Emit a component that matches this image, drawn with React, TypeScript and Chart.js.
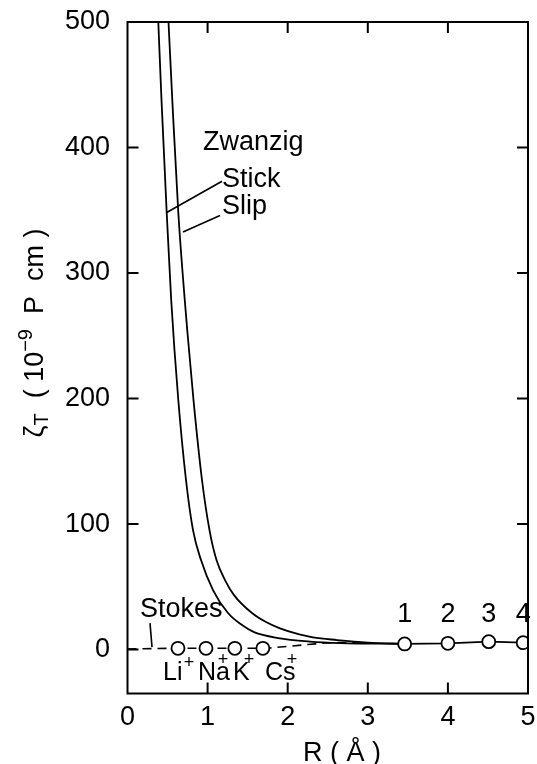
import React, { useEffect, useRef } from "react";
import { Chart, registerables } from "chart.js";

Chart.register(...registerables);

const FONT = '"Liberation Sans", Arial, sans-serif';

// axis ticks
const xTicks = [0, 1, 2, 3, 4, 5];
const yTicks = [0, 100, 200, 300, 400, 500];
const innerXTicks = [1, 2, 3, 4];
const innerYTicksLeft = [0, 100, 200, 300, 400];
const innerYTicksRight = [100, 200, 300, 400];

// Zwanzig stick curve
const stickR = [0.3845, 0.4245, 0.4894, 0.5456, 0.6342, 0.7303, 0.8177, 0.9176, 1.0674, 1.2547, 1.4295, 1.5793, 1.8789, 2.2784, 2.6529, 3.46];
const stickZeta = [500, 437.8, 348.2, 278.5, 198.8, 135.1, 95.2, 71.3, 47.4, 29.1, 19.5, 13.9, 9.2, 6.4, 5.2, 4.5];

// Zwanzig slip curve
const slipR = [0.5119, 0.5593, 0.6342, 0.7491, 0.824, 0.9301, 1.0237, 1.1111, 1.2172, 1.3296, 1.5543, 1.7291, 1.9039, 2.0911, 2.3159, 2.6155, 3.0, 3.46];
const slipZeta = [500, 437.8, 348.2, 252.2, 198.8, 135.1, 95.2, 71.3, 55.4, 43.4, 29.1, 21.9, 16.9, 13.1, 9.7, 7.6, 5.6, 4.5];

// Stokes (dashed)
const stokesR = [0, 0.63, 0.98, 1.34, 1.69, 1.87, 2.25, 2.62, 2.9];
const stokesZeta = [0.4, 1.0, 1.0, 1.0, 1.0, 1.8, 4.0, 5.6, 5.2];

// alkali ions
const ionNames = ["Li", "Na", "K", "Cs"];
const ionR = [0.63, 0.98, 1.34, 1.69];
const ionZeta = [1.0, 1.0, 1.0, 1.0];

// numbered points 1-4
const numLabels = ["1", "2", "3", "4"];
const numR = [3.46, 4.0, 4.51, 4.94];
const numZeta = [4.5, 5.0, 6.3, 5.5];

// text annotations (data coordinates: left x, baseline y)
const textLabels = [
  { text: "Zwanzig", x: 0.943, y: 398, size: 27 },
  { text: "Stick", x: 1.18, y: 368.5, size: 27 },
  { text: "Slip", x: 1.18, y: 347, size: 27 },
  { text: "Stokes", x: 0.156, y: 25.9, size: 27 },
];
const ionLabelX = [0.443, 0.88, 1.317, 1.717];
const ionLabelY = -24.3;
const plusX = [0.768, 1.192, 1.517, 2.054];
const plusY = [-10.8, -8.4, -8.4, -8.4];
const numLabelY = 21.9;
// leader lines [x1, y1, x2, y2]
const leaders = [
  [1.18, 373.1, 0.4894, 348.2],
  [1.155, 345.8, 0.693, 332.7],
  [0.281, 21.1, 0.306, 2.0],
];

const pts = (xs: number[], ys: number[]) => xs.map((x, i) => ({ x, y: ys[i] }));

const annotPlugin = {
  id: "annot",
  afterDraw(chart: any) {
    const { ctx, chartArea: a, scales } = chart;
    const xs = scales.x, ys = scales.y;
    const px = (v: number) => xs.getPixelForValue(v);
    const py = (v: number) => ys.getPixelForValue(v);
    ctx.save();
    ctx.strokeStyle = "#000";
    ctx.fillStyle = "#000";
    // frame
    ctx.lineWidth = 2;
    ctx.strokeRect(a.left, a.top, a.right - a.left, a.bottom - a.top);
    // inward ticks
    const TL = 11;
    ctx.lineWidth = 2;
    ctx.beginPath();
    innerXTicks.forEach((v) => {
      const x = px(v);
      ctx.moveTo(x, a.bottom); ctx.lineTo(x, a.bottom - TL);
      ctx.moveTo(x, a.top); ctx.lineTo(x, a.top + TL);
    });
    innerYTicksLeft.forEach((v) => {
      const y = py(v);
      ctx.moveTo(a.left, y); ctx.lineTo(a.left + TL, y);
    });
    innerYTicksRight.forEach((v) => {
      const y = py(v);
      ctx.moveTo(a.right, y); ctx.lineTo(a.right - TL, y);
    });
    ctx.stroke();
    // leaders
    ctx.lineWidth = 1.6;
    ctx.beginPath();
    leaders.forEach(([x1, y1, x2, y2]) => {
      ctx.moveTo(px(x1), py(y1));
      ctx.lineTo(px(x2), py(y2));
    });
    ctx.stroke();
    // texts
    ctx.textBaseline = "alphabetic";
    ctx.textAlign = "left";
    textLabels.forEach((t) => {
      ctx.font = `${t.size}px ${FONT}`;
      ctx.fillText(t.text, px(t.x), py(t.y));
    });
    ctx.font = `25px ${FONT}`;
    ionNames.forEach((n, i) => ctx.fillText(n, px(ionLabelX[i]), py(ionLabelY)));
    ctx.textAlign = "center";
    ctx.font = `18px ${FONT}`;
    ctx.textBaseline = "middle";
    plusX.forEach((x, i) => ctx.fillText("+", px(x), py(plusY[i])));
    ctx.textBaseline = "alphabetic";
    ctx.font = `27px ${FONT}`;
    numLabels.forEach((n, i) => ctx.fillText(n, px(numR[i]), py(numLabelY)));
    // x axis title
    ctx.textAlign = "center";
    ctx.font = `27px ${FONT}`;
    ctx.fillText("R ( Å )", 342, 761);
    // y axis title
    const big = `27px ${FONT}`, small = `20px ${FONT}`;
    const pieces = [
      { t: "ζ", f: big, dy: 0 },
      { t: "T", f: small, dy: 5 },
      { t: "  ( 10", f: big, dy: 0 },
      { t: "−9", f: small, dy: -11 },
      { t: "  P  cm )", f: big, dy: 0 },
    ];
    ctx.textAlign = "left";
    let total = 0;
    const widths = pieces.map((p) => { ctx.font = p.f; const w = ctx.measureText(p.t).width; total += w; return w; });
    ctx.translate(43, 333);
    ctx.rotate(-Math.PI / 2);
    let cx = -total / 2;
    pieces.forEach((p, i) => {
      ctx.font = p.f;
      ctx.fillText(p.t, cx, p.dy);
      cx += widths[i];
    });
    ctx.restore();
  },
};

export default function App() {
  const ref = useRef<HTMLCanvasElement>(null);
  useEffect(() => {
    const lineBase = { showLine: true, pointRadius: 0, borderColor: "#000", borderWidth: 1.8, cubicInterpolationMode: "monotone" as const, fill: false };
    const pointBase = { pointRadius: 6.5, pointBackgroundColor: "#fff", pointBorderColor: "#000", pointBorderWidth: 1.8, pointHoverRadius: 6.5 };
    const chart = new Chart(ref.current!, {
      type: "scatter",
      data: {
        datasets: [
          { label: "numbered", data: pts(numR, numZeta), showLine: true, borderColor: "#000", borderWidth: 1.8, order: 0, ...pointBase },
          { label: "ions", data: pts(ionR, ionZeta), showLine: false, order: 0, ...pointBase },
          { label: "Stick", data: pts(stickR, stickZeta), order: 2, ...lineBase },
          { label: "Slip", data: pts(slipR, slipZeta), order: 2, ...lineBase },
          { label: "Stokes", data: pts(stokesR, stokesZeta), order: 3, ...lineBase, borderWidth: 1.6, borderDash: [9, 6] },
        ],
      },
      options: {
        animation: false,
        responsive: false,
        devicePixelRatio: 1,
        layout: { padding: { top: 22, right: 9, left: 0, bottom: 0 } },
        plugins: { legend: { display: false }, tooltip: { enabled: false } },
        scales: {
          x: {
            type: "linear",
            min: 0,
            max: 5,
            afterBuildTicks: (s: any) => { s.ticks = xTicks.map((v) => ({ value: v })); },
            afterFit: (s: any) => { s.height = 70.5; s.paddingLeft = 0; s.paddingRight = 0; },
            ticks: { font: { family: FONT, size: 27 }, color: "#000", padding: 8, maxRotation: 0, autoSkip: false },
            grid: { display: false, drawTicks: false },
            border: { display: false },
          },
          y: {
            type: "linear",
            min: -35,
            max: 500,
            afterBuildTicks: (s: any) => { s.ticks = yTicks.map((v) => ({ value: v })); },
            afterFit: (s: any) => { s.width = 127.5; s.paddingTop = 0; s.paddingBottom = 0; },
            ticks: { font: { family: FONT, size: 27 }, color: "#000", padding: 17.5, autoSkip: false },
            grid: { display: false, drawTicks: false },
            border: { display: false },
          },
        },
      },
      plugins: [annotPlugin],
    });
    return () => chart.destroy();
  }, []);
  return (
    <div style={{ position: "absolute", left: 0, top: 0, width: 537, height: 764, background: "#fff" }}>
      <canvas ref={ref} width={537} height={764} style={{ display: "block" }} />
    </div>
  );
}
